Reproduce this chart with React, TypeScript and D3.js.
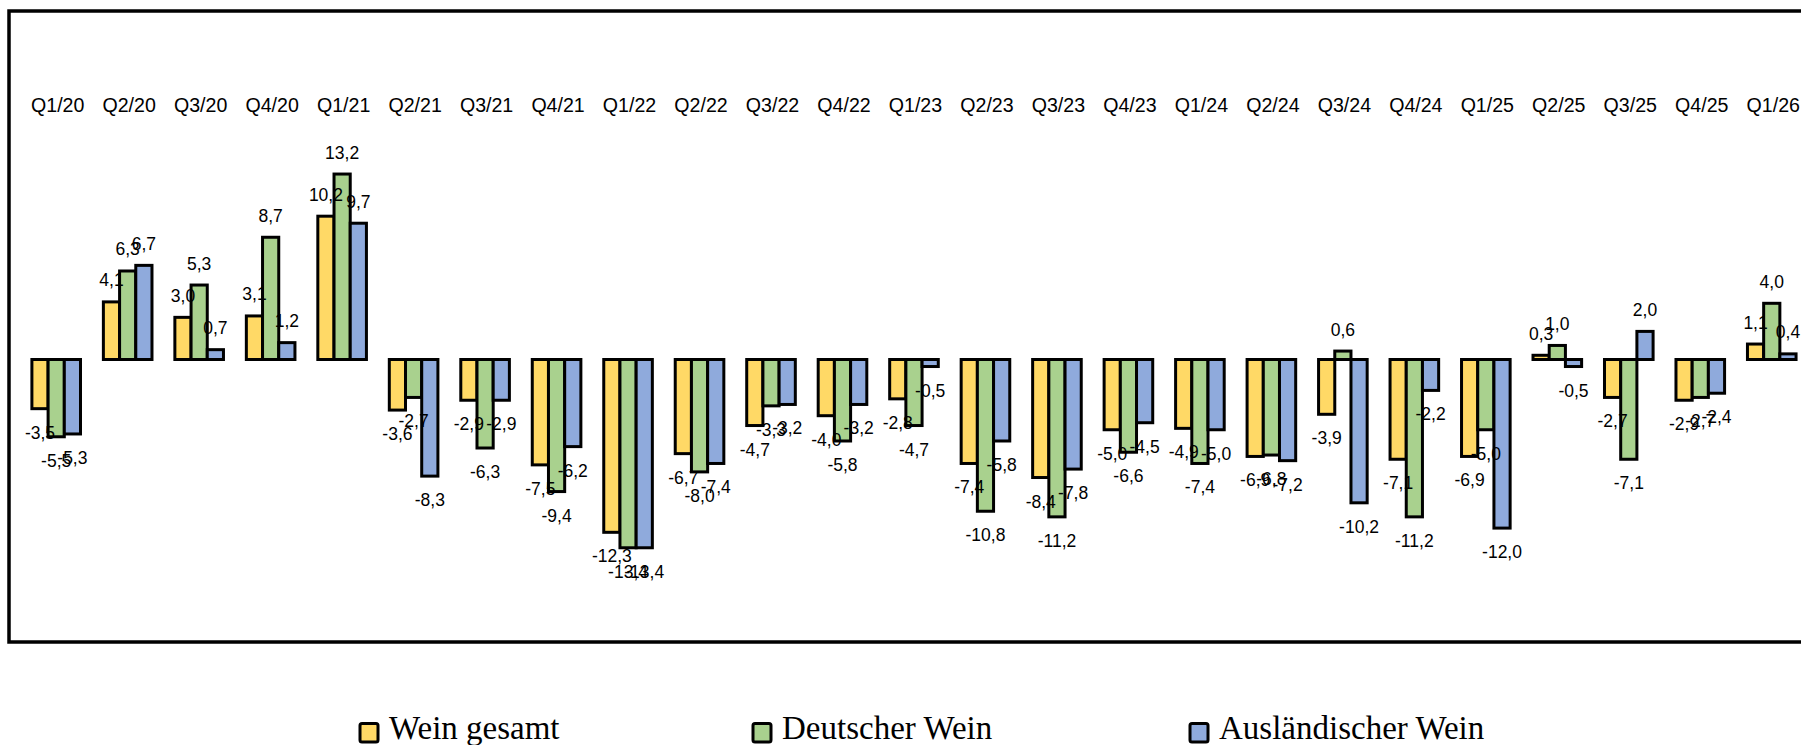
import React from "react";
import * as d3 from "d3";

const categories = [
  "Q1/20", "Q2/20", "Q3/20", "Q4/20",
  "Q1/21", "Q2/21", "Q3/21", "Q4/21",
  "Q1/22", "Q2/22", "Q3/22", "Q4/22",
  "Q1/23", "Q2/23", "Q3/23", "Q4/23",
  "Q1/24", "Q2/24", "Q3/24", "Q4/24",
  "Q1/25", "Q2/25", "Q3/25", "Q4/25",
  "Q1/26",
];

const weinGesamt = [
  -3.5, 4.1, 3.0, 3.1,
  10.2, -3.6, -2.9, -7.5,
  -12.3, -6.7, -4.7, -4.0,
  -2.8, -7.4, -8.4, -5.0,
  -4.9, -6.9, -3.9, -7.1,
  -6.9, 0.3, -2.7, -2.9,
  1.1,
];

const deutscherWein = [
  -5.5, 6.3, 5.3, 8.7,
  13.2, -2.7, -6.3, -9.4,
  -13.4, -8.0, -3.3, -5.8,
  -4.7, -10.8, -11.2, -6.6,
  -7.4, -6.8, 0.6, -11.2,
  -5.0, 1.0, -7.1, -2.7,
  4.0,
];

const auslaendischerWein = [
  -5.3, 6.7, 0.7, 1.2,
  9.7, -8.3, -2.9, -6.2,
  -13.4, -7.4, -3.2, -3.2,
  -0.5, -5.8, -7.8, -4.5,
  -5.0, -7.2, -10.2, -2.2,
  -12.0, -0.5, 2.0, -2.4,
  0.4,
];

const seriesNames = ["Wein gesamt", "Deutscher Wein", "Ausländischer Wein"];
const seriesValues = [weinGesamt, deutscherWein, auslaendischerWein];
const seriesColors = ["#FFD966", "#A9D18E", "#8FAADC"];

const W = 1801;
const H = 745;
const SANS = "'Liberation Sans', Arial, Helvetica, sans-serif";
const SERIF = "'Liberation Serif', 'Times New Roman', serif";

const locale = d3.formatLocale({
  decimal: ",",
  thousands: ".",
  grouping: [3],
  currency: ["", " €"],
  minus: "-",
});
const fmt = locale.format(".1f");

export default function App() {
  const x = d3.scaleBand<string>().domain(categories).range([20.46, 1807.5]).paddingInner(0).paddingOuter(0);
  const groupW = 48.6;
  const inner = d3.scaleBand<string>().domain(seriesNames).range([0, groupW]);
  const y = d3.scaleLinear().domain([-15, 15]).range([570.25, 148.75]);
  const y0 = y(0);
  const off = (x.bandwidth() - groupW) / 2;

  const legendX = [360, 753, 1190];

  return (
    <svg
      width={W}
      height={H}
      viewBox={`0 0 ${W} ${H}`}
      style={{ position: "absolute", left: 0, top: 0, background: "#fff" }}
    >
      <rect x={0} y={0} width={W} height={H} fill="#fff" />
      <rect x={9} y={11} width={1820} height={631} fill="none" stroke="#000" strokeWidth={3.5} />

      {categories.map((c) => (
        <text
          key={c}
          x={(x(c) as number) + x.bandwidth() / 2 + 1.5}
          y={105}
          textAnchor="middle"
          dominantBaseline="central"
          fontFamily={SANS}
          fontSize={19.6}
          fill="#000"
        >
          {c}
        </text>
      ))}

      {seriesNames.map((s, si) => (
        <g key={s}>
          {categories.map((c, ci) => {
            const v = seriesValues[si][ci];
            const bx = (x(c) as number) + off + (inner(s) as number);
            const yv = y(v);
            return (
              <rect
                key={c}
                x={bx}
                y={Math.min(yv, y0)}
                width={inner.bandwidth()}
                height={Math.abs(yv - y0)}
                fill={seriesColors[si]}
                stroke="#000"
                strokeWidth={3}
              />
            );
          })}
        </g>
      ))}

      {seriesNames.map((s, si) => (
        <g key={"labels" + s}>
          {categories.map((c, ci) => {
            const v = seriesValues[si][ci];
            const cx = (x(c) as number) + off + (inner(s) as number) + inner.bandwidth() / 2;
            const yv = y(v);
            return (
              <text
                key={"l" + c}
                x={cx}
                y={v >= 0 ? yv - 21.5 : yv + 24}
                textAnchor="middle"
                dominantBaseline="central"
                fontFamily={SANS}
                fontSize={17.5}
                fill="#000"
              >
                {fmt(v)}
              </text>
            );
          })}
        </g>
      ))}

      {seriesNames.map((s, si) => (
        <g key={"leg" + s}>
          <rect
            x={legendX[si]}
            y={723.5}
            width={18}
            height={18.5}
            rx={2}
            fill={seriesColors[si]}
            stroke="#000"
            strokeWidth={3}
          />
          <text
            x={legendX[si] + 29}
            y={738.5}
            fontFamily={SERIF}
            fontSize={33}
            fill="#000"
          >
            {s}
          </text>
        </g>
      ))}
    </svg>
  );
}
